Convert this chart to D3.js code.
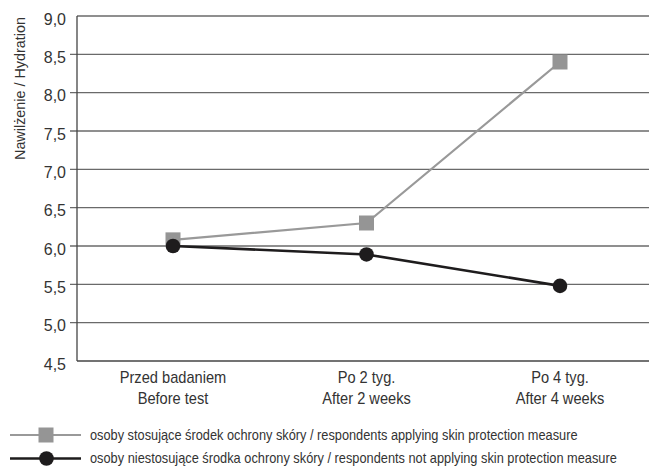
<!DOCTYPE html>
<html>
<head>
<meta charset="utf-8">
<script src="https://cdn.jsdelivr.net/npm/d3@7"></script>
<style>
  html, body { margin: 0; padding: 0; background: #fff; }
  svg { display: block; }
  text { font-family: "Liberation Sans", Arimo, Arial, sans-serif; fill: #333; }
</style>
</head>
<body>
<svg id="chart" width="649" height="469"></svg>
<script>
const categoriesPL = ["Przed badaniem", "Po 2 tyg.", "Po 4 tyg."];
const categoriesEN = ["Before test", "After 2 weeks", "After 4 weeks"];
const applying = [6.08, 6.30, 8.40];
const notApplying = [6.00, 5.89, 5.48];
const yTicks = [4.5, 5.0, 5.5, 6.0, 6.5, 7.0, 7.5, 8.0, 8.5, 9.0];
const yTitle = "Nawilżenie / Hydration";
const legendLabels = [
  "osoby stosujące środek ochrony skóry / respondents applying skin protection measure",
  "osoby niestosujące środka ochrony skóry / respondents not applying skin protection measure"
];

const svg = d3.select("#chart");
const pLeft = 77, pRight = 649, pTop = 16, pBottom = 361;

// condense text horizontally (the reference uses a condensed typeface)
function condense(sel, factor) {
  sel.each(function () {
    const len = this.getComputedTextLength();
    d3.select(this).attr("textLength", len * factor).attr("lengthAdjust", "spacingAndGlyphs");
  });
}

const x = d3.scalePoint().domain(categoriesPL).range([173, 560]);
const y = d3.scaleLinear().domain([4.5, 9.0]).range([pBottom, pTop]);
const fmt = v => d3.format(".1f")(v).replace(".", ",");

// gridlines
svg.append("g").selectAll("line").data(yTicks).join("line")
  .attr("x1", d => (d === 4.5 || d === 9.0) ? pLeft : pLeft - 7)
  .attr("x2", pRight)
  .attr("y1", d => y(d)).attr("y2", d => y(d))
  .attr("stroke", d => d === 4.5 ? "#444" : "#6a6a6a")
  .attr("stroke-width", 1.3);

// y axis line
svg.append("line").attr("x1", pLeft).attr("x2", pLeft).attr("y1", pTop).attr("y2", pBottom)
  .attr("stroke", "#444").attr("stroke-width", 1.3);

// y tick labels
svg.append("g").selectAll("text").data(yTicks).join("text")
  .attr("x", 66).attr("y", d => y(d) + 8.5)
  .attr("text-anchor", "end")
  .attr("font-size", 16.5)
  .text(fmt)
  .call(condense, 0.97);

// y title
svg.append("text")
  .attr("transform", `translate(24.5, 88.5) rotate(-90)`)
  .attr("text-anchor", "middle")
  .attr("font-size", 15.5)
  .text(yTitle)
  .attr("textLength", 143).attr("lengthAdjust", "spacingAndGlyphs");

// category labels
const cat = svg.append("g").selectAll("g").data(categoriesPL).join("g");
cat.append("text").attr("x", d => x(d)).attr("y", 382.5).attr("text-anchor", "middle")
  .attr("font-size", 17).text(d => d).call(condense, 0.86);
cat.append("text").attr("x", d => x(d)).attr("y", 404).attr("text-anchor", "middle")
  .attr("font-size", 17).text((d, i) => categoriesEN[i]).call(condense, 0.86);

const line = d3.line().x((d, i) => x(categoriesPL[i])).y(d => y(d));

// gray series
svg.append("path").datum(applying).attr("d", line)
  .attr("fill", "none").attr("stroke", "#999").attr("stroke-width", 2.2);
svg.append("g").selectAll("rect").data(applying).join("rect")
  .attr("x", (d, i) => x(categoriesPL[i]) - 7.5)
  .attr("y", d => y(d) - 7.5)
  .attr("width", 15).attr("height", 15)
  .attr("fill", "#959595");

// black series
svg.append("path").datum(notApplying).attr("d", line)
  .attr("fill", "none").attr("stroke", "#1e1c1d").attr("stroke-width", 2.6);
svg.append("g").selectAll("circle").data(notApplying).join("circle")
  .attr("cx", (d, i) => x(categoriesPL[i]))
  .attr("cy", d => y(d))
  .attr("r", 7.3)
  .attr("fill", "#1e1c1d");

// legend
const lg = svg.append("g");
const rows = [435, 458.5];
const legendWidths = [488, 527];
lg.append("line").attr("x1", 10).attr("x2", 81).attr("y1", rows[0]).attr("y2", rows[0])
  .attr("stroke", "#999").attr("stroke-width", 2.2);
lg.append("rect").attr("x", 46 - 7.5).attr("y", rows[0] - 7.5).attr("width", 15).attr("height", 15)
  .attr("fill", "#959595");
lg.append("line").attr("x1", 10).attr("x2", 81).attr("y1", rows[1]).attr("y2", rows[1])
  .attr("stroke", "#1e1c1d").attr("stroke-width", 2.6);
lg.append("circle").attr("cx", 46.5).attr("cy", rows[1]).attr("r", 7.3).attr("fill", "#1e1c1d");
lg.selectAll("text.lbl").data(legendLabels).join("text").attr("class", "lbl")
  .attr("x", 0).attr("y", 0)
  .attr("font-size", 14)
  .text(d => d)
  .each(function (d, i) {
    const len = this.getComputedTextLength();
    d3.select(this).attr("transform",
      `translate(90, ${rows[i] + 4.5}) scale(${legendWidths[i] / len}, 1)`);
  });
</script>
</body>
</html>
